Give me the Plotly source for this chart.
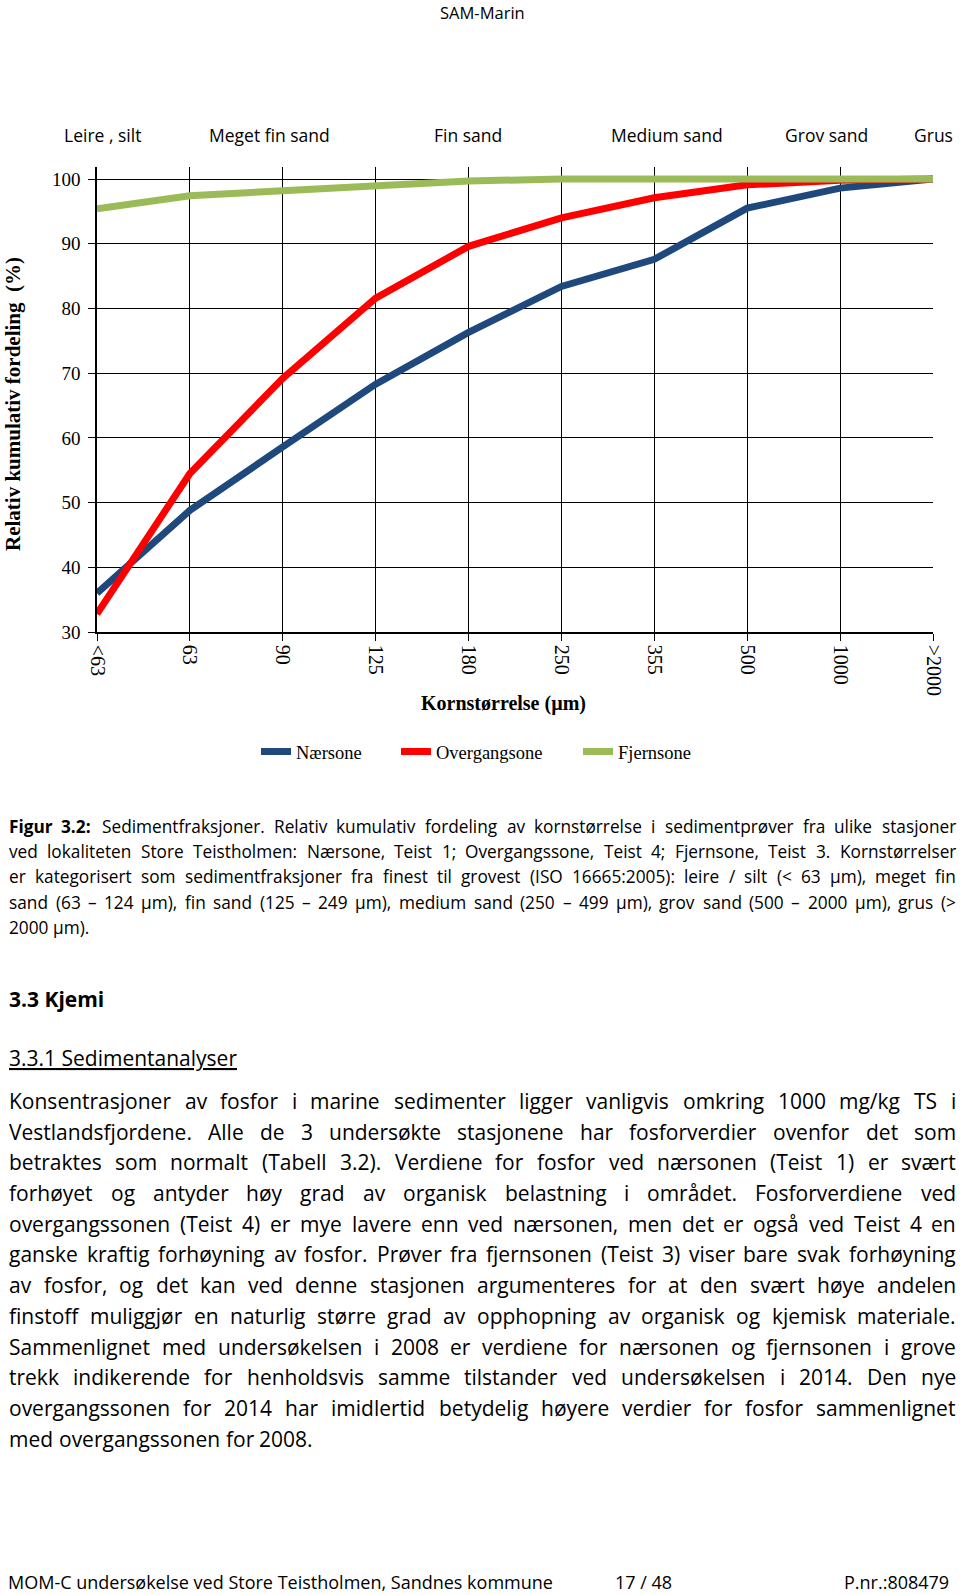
import plotly.graph_objects as go

# ---------------- data ----------------
size_classes = ["<63", "63", "90", "125", "180", "250", "355", "500", "1000", ">2000"]
naersone = [36.0, 48.8, 58.6, 68.3, 76.3, 83.4, 87.6, 95.5, 98.6, 100.0]
overgangsone = [32.8, 54.5, 69.2, 81.6, 89.6, 94.0, 97.1, 99.1, 99.8, 100.0]
fjernsone = [95.4, 97.4, 98.2, 99.0, 99.7, 100.0, 100.0, 100.0, 100.0, 100.0]
series_names = ["Nærsone", "Overgangsone", "Fjernsone"]
y_ticks = [30, 40, 50, 60, 70, 80, 90, 100]
fraction_labels = ["Leire , silt", "Meget fin sand", "Fin sand", "Medium sand", "Grov sand", "Grus"]

header_text = "SAM-Marin"
caption_lines = [
    "<b>Figur</b> <b>3.2:</b> Sedimentfraksjoner. Relativ kumulativ fordeling av kornstørrelse i sedimentprøver fra ulike stasjoner",
    "ved lokaliteten Store Teistholmen: Nærsone, Teist 1; Overgangssone, Teist 4; Fjernsone, Teist 3. Kornstørrelser",
    "er kategorisert som sedimentfraksjoner fra finest til grovest (ISO 16665:2005): leire / silt (< 63 µm), meget fin",
    "sand (63 – 124 µm), fin sand (125 – 249 µm), medium sand (250 – 499 µm), grov sand (500 – 2000 µm), grus (>",
    "2000 µm).",
]
heading = "3.3 Kjemi"
subheading = "3.3.1 Sedimentanalyser"
body_lines = [
    "Konsentrasjoner av fosfor i marine sedimenter ligger vanligvis omkring 1000 mg/kg TS i",
    "Vestlandsfjordene. Alle de 3 undersøkte stasjonene har fosforverdier ovenfor det som",
    "betraktes som normalt (Tabell 3.2). Verdiene for fosfor ved nærsonen (Teist 1) er svært",
    "forhøyet og antyder høy grad av organisk belastning i området. Fosforverdiene ved",
    "overgangssonen (Teist 4) er mye lavere enn ved nærsonen, men det er også ved Teist 4 en",
    "ganske kraftig forhøyning av fosfor. Prøver fra fjernsonen (Teist 3) viser bare svak forhøyning",
    "av fosfor, og det kan ved denne stasjonen argumenteres for at den svært høye andelen",
    "finstoff muliggjør en naturlig større grad av opphopning av organisk og kjemisk materiale.",
    "Sammenlignet med undersøkelsen i 2008 er verdiene for nærsonen og fjernsonen i grove",
    "trekk indikerende for henholdsvis samme tilstander ved undersøkelsen i 2014. Den nye",
    "overgangssonen for 2014 har imidlertid betydelig høyere verdier for fosfor sammenlignet",
    "med overgangssonen for 2008.",
]
footer_left = "MOM-C undersøkelse ved Store Teistholmen, Sandnes kommune"
footer_mid = "17 / 48"
footer_right = "P.nr.:808479"

# ---------------- geometry / style ----------------
W, H = 960, 1595
PL, PR, PT, PB = 97, 933, 167, 632
SERIF = "Liberation Serif, Times New Roman, serif"
SANS = "Open Sans, sans-serif"
colors = ["#1F497D", "#FF0000", "#9BBB59"]


def xp(px):
    return (px - PL) / (PR - PL)


def yp(py):
    return (PB - py) / (PB - PT)


fig = go.Figure()
for name, vals, col, lg in zip(series_names, [naersone, overgangsone, fjernsone], colors,
                               ["legend", "legend2", "legend3"]):
    fig.add_trace(go.Scatter(x=size_classes, y=vals, name=name, mode="lines",
                             line=dict(color=col, width=7), legend=lg, hoverinfo="skip"))

annotations = []


def ann(x, y, text, size, family=SANS, xanchor="left", yanchor="middle", color="#000", angle=0,
        **fontkw):
    annotations.append(dict(x=xp(x), y=yp(y), xref="paper", yref="paper", text=text,
                            showarrow=False, xanchor=xanchor, yanchor=yanchor, textangle=angle,
                            font=dict(size=size, family=family, color=color, **fontkw),
                            borderpad=0))


# approximate Open Sans advance widths (em)
OS = {" ": .26, "a": .556, "b": .613, "c": .476, "d": .613, "e": .561, "f": .339, "g": .548,
      "h": .614, "i": .253, "j": .253, "k": .525, "l": .253, "m": .930, "n": .614, "o": .604,
      "p": .613, "q": .613, "r": .408, "s": .477, "t": .353, "u": .614, "v": .501, "w": .778,
      "x": .524, "y": .502, "z": .477, "A": .633, "B": .648, "C": .631, "D": .729, "E": .556,
      "F": .516, "G": .728, "H": .738, "I": .279, "J": .267, "K": .614, "L": .519, "M": .903,
      "N": .754, "O": .779, "P": .602, "Q": .779, "R": .618, "S": .549, "T": .553, "U": .728,
      "V": .595, "W": .926, "X": .577, "Y": .56, "Z": .571, ".": .266, ",": .245, ":": .266,
      ";": .266, "(": .296, ")": .296, "/": .367, "-": .322, "<": .572, ">": .572, "–": .5,
      "µ": .618, "æ": .866, "ø": .604, "å": .556, "Æ": .873, "Ø": .779, "Å": .633}


def tw(word, size):
    bold = word.startswith("<b>")
    plain = word.replace("<b>", "").replace("</b>", "")
    w = sum(OS.get(c, .572 if c.isdigit() else .56) for c in plain) * size
    return w * (1.07 if bold else 1.0)


def justified(lines, y0, dy, left, right, size_max):
    nat = max(tw(l, 1) for l in lines[:-1])
    size = min(size_max, (right - left) / nat)
    for i, line in enumerate(lines):
        words = line.split(" ")
        widths = [tw(w, size) for w in words]
        if i < len(lines) - 1 and len(words) > 1:
            gap = (right - left - sum(widths)) / (len(words) - 1)
        else:
            gap = OS[" "] * size
        x = left
        for w, wd in zip(words, widths):
            ann(x, y0 + i * dy, w, size)
            x += wd + gap


# header / footer
ann(482, 0, header_text, 16.5, xanchor="center", yanchor="top")
ann(7, 1582, footer_left, 18)
ann(643, 1582, footer_mid, 18, xanchor="center")
ann(950, 1582, footer_right, 18, xanchor="right")

# caption + body text
justified(caption_lines, 826, 25.4, 8, 955, 17.5)
ann(8, 999, "<b>" + heading + "</b>", 21)
ann(8, 1058, subheading, 21, lineposition="under")
justified(body_lines, 1101, 30.69, 8, 955, 21)

# chart texts
for lab, cx in zip(fraction_labels, [102, 269, 468, 667, 826, 933]):
    ann(cx, 135, lab, 17.5, xanchor="center")
ann(13, 404, "<b>Relativ kumulativ fordeling\u00a0 (%)</b>", 21, family=SERIF,
    xanchor="center", angle=-90)
ann(503, 703, "<b>Kornstørrelse (µm)</b>", 20, family=SERIF, xanchor="center")

legend_common = dict(orientation="h", yanchor="middle", xanchor="left", y=yp(752),
                     font=dict(family=SERIF, size=18.5, color="#000"),
                     bgcolor="rgba(0,0,0,0)", borderwidth=0)
fig.update_layout(
    width=W, height=H,
    margin=dict(l=PL, r=W - PR, t=PT, b=H - PB, pad=0),
    paper_bgcolor="white", plot_bgcolor="white",
    showlegend=True,
    legend=dict(x=xp(256), **legend_common),
    legend2=dict(x=xp(396), **legend_common),
    legend3=dict(x=xp(578), **legend_common),
    annotations=annotations,
    xaxis=dict(type="category", categoryorder="array", categoryarray=size_classes,
               range=[0, len(size_classes) - 1], showgrid=True, gridcolor="#000", gridwidth=1,
               showline=True, linecolor="#000", linewidth=1.5, ticks="outside", ticklen=7,
               tickcolor="#000", tickangle=90,
               tickfont=dict(family=SERIF, size=20, color="#000"), zeroline=False),
    yaxis=dict(range=[30, 101.86], tickvals=y_ticks, showgrid=True, gridcolor="#000",
               gridwidth=1, showline=True, linecolor="#000", linewidth=1.5, ticks="outside",
               ticklen=7, tickcolor="#000", tickfont=dict(family=SERIF, size=19, color="#000"),
               zeroline=False, ticklabelstandoff=4),
)

fig.write_html("out.html")
